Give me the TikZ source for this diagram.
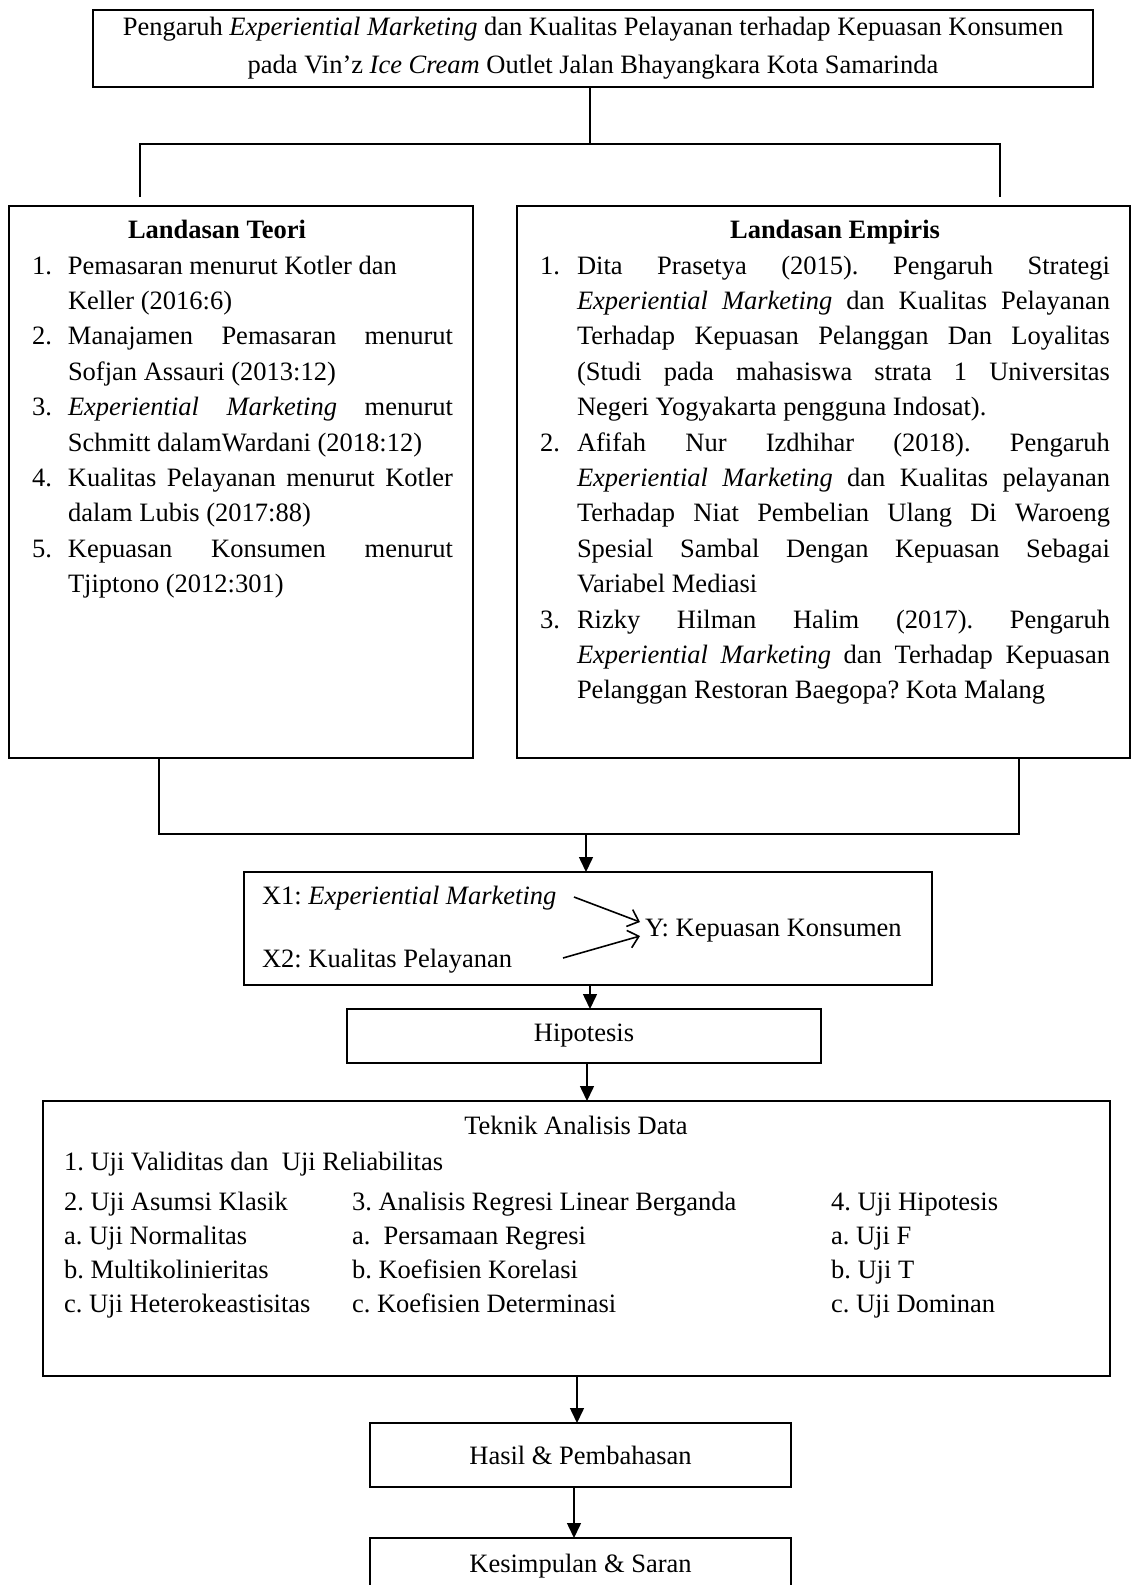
\documentclass[tikz,border=0pt]{standalone}
\usepackage{fontspec}
\setmainfont{Liberation Serif}
\usetikzlibrary{arrows.meta}
\frenchspacing
\newcommand{\bodyfont}{\fontsize{26.5}{35.4}\selectfont}
\newcommand{\titlefont}{\fontsize{26.5}{38}\selectfont}
\newcommand{\jlA}[1]{\makebox[385pt][s]{#1}}
\newcommand{\jlB}[1]{\makebox[533pt][s]{#1}}
\tikzset{
  box/.style={draw, line width=1.8pt, inner sep=0pt, outer sep=0pt},
  txt/.style={inner sep=0pt, outer sep=0pt},
  conn/.style={line width=1.5pt},
  arr/.style={line width=1.5pt, -{Triangle[length=15pt,width=14pt]}},
  barb/.style={line width=1.6pt, -{Straight Barb[length=10pt,width=18pt]}}
}
\begin{document}
\frenchspacing
\begin{tikzpicture}[x=1pt,y=-1pt, every node/.style={font=\bodyfont}]
\useasboundingbox (0,0) rectangle (1131,1585);
\clip (0,0) rectangle (1131,1585);

% title
\node[box, anchor=north west, minimum width=1000pt, minimum height=77pt, align=center, font=\titlefont] (title) at (93,10)
  {Pengaruh \textit{Experiential Marketing} dan Kualitas Pelayanan terhadap Kepuasan Konsumen\\pada Vin’z \textit{Ice Cream} Outlet Jalan Bhayangkara Kota Samarinda};

\coordinate (jc) at (590,144);
\coordinate (jl) at (140,144);
\coordinate (jr) at (1000,144);
\coordinate (dl) at (140,197);
\coordinate (dr) at (1000,197);
\draw[conn] (title.south -| jc) -- (jc);
\draw[conn] (dl) -- (jl) -- (jr) -- (dr);

% two boxes
\node[box, anchor=north west, minimum width=464pt, minimum height=552pt] (teori) at (9,206) {};
\node[box, anchor=north west, minimum width=613pt, minimum height=552pt] (empiris) at (517,206) {};

\node[txt, anchor=base, font=\bodyfont\bfseries] (teorihead) at (217,238) {Landasan Teori};
\node[txt, anchor=base west] (teorilist) at (32,274) {\vtop{\hsize=421pt\parindent=0pt\parskip=0pt\lineskiplimit=-100pt
\hangindent=36pt\hangafter=1 \makebox[36pt][l]{1.}Pemasaran menurut Kotler dan\newline Keller (2016:6)\par
\hangindent=36pt\hangafter=1 \makebox[36pt][l]{2.}\jlA{Manajamen Pemasaran menurut}\newline Sofjan Assauri (2013:12)\par
\hangindent=36pt\hangafter=1 \makebox[36pt][l]{3.}\jlA{\textit{Experiential Marketing} menurut}\newline Schmitt dalamWardani (2018:12)\par
\hangindent=36pt\hangafter=1 \makebox[36pt][l]{4.}\jlA{Kualitas Pelayanan menurut Kotler}\newline dalam Lubis (2017:88)\par
\hangindent=36pt\hangafter=1 \makebox[36pt][l]{5.}\jlA{Kepuasan Konsumen menurut}\newline Tjiptono (2012:301)\par}};

\node[txt, anchor=base, font=\bodyfont\bfseries] (empirishead) at (835,238) {Landasan Empiris};
\node[txt, anchor=base west] (empirislist) at (540,274) {\vtop{\hsize=570pt\parindent=0pt\parskip=0pt\lineskiplimit=-100pt
\hangindent=37pt\hangafter=1 \makebox[37pt][l]{1.}\jlB{Dita Prasetya (2015). Pengaruh Strategi}\newline
\jlB{\textit{Experiential Marketing} dan Kualitas Pelayanan}\newline
\jlB{Terhadap Kepuasan Pelanggan Dan Loyalitas}\newline
\jlB{(Studi pada mahasiswa strata 1 Universitas}\newline
Negeri Yogyakarta pengguna Indosat).\par
\hangindent=37pt\hangafter=1 \makebox[37pt][l]{2.}\jlB{Afifah Nur Izdhihar (2018). Pengaruh}\newline
\jlB{\textit{Experiential Marketing} dan Kualitas pelayanan}\newline
\jlB{Terhadap Niat Pembelian Ulang Di Waroeng}\newline
\jlB{Spesial Sambal Dengan Kepuasan Sebagai}\newline
Variabel Mediasi\par
\hangindent=37pt\hangafter=1 \makebox[37pt][l]{3.}\jlB{Rizky Hilman Halim (2017). Pengaruh}\newline
\jlB{\textit{Experiential Marketing} dan Terhadap Kepuasan}\newline
Pelanggan Restoran Baegopa? Kota Malang\par}};

% lower connector
\coordinate (bl) at (159,834);
\coordinate (br) at (1019,834);
\coordinate (bm) at (586,834);
\draw[conn] (teori.south -| bl) -- (bl) -- (br) -- (empiris.south -| br);

% variables box
\node[box, anchor=north west, minimum width=688pt, minimum height=113pt] (xbox) at (244,872) {};
\draw[arr] (bm) -- (bm |- xbox.north);
\node[txt, anchor=base west] (x1) at (262,904) {X1: \textit{Experiential Marketing}};
\node[txt, anchor=base west] (x2) at (262,967) {X2: Kualitas Pelayanan};
\node[txt, anchor=base west] (yv) at (645,936) {Y: Kepuasan Konsumen};
\coordinate (a1s) at (574,897);
\coordinate (a1e) at (640,922);
\coordinate (a2s) at (563,958);
\coordinate (a2e) at (640,936);
\draw[barb] (a1s) -- (a1e);
\draw[barb] (a2s) -- (a2e);

% hipotesis
\node[box, anchor=north west, minimum width=474pt, minimum height=54pt] (hip) at (347,1009) {Hipotesis};
\draw[arr] (xbox.south -| 590,0) -- (hip.north -| 590,0);

% teknik analisis
\node[box, anchor=north west, minimum width=1067pt, minimum height=275pt] (teknik) at (43,1101) {};
\draw[arr] (hip.south -| 587,0) -- (teknik.north -| 587,0);
\node[txt, anchor=base] (tekhead) at (576,1134) {Teknik Analisis Data};
\node[txt, anchor=base west] (tek1) at (64,1170) {1. Uji Validitas dan~ Uji Reliabilitas};
\node[txt, anchor=base west] (tekc1) at (64,1210) {\vtop{\baselineskip=34pt\hbox{2. Uji Asumsi Klasik}\hbox{a. Uji Normalitas}\hbox{b. Multikolinieritas}\hbox{c. Uji Heterokeastisitas}}};
\node[txt, anchor=base west] (tekc2) at (352,1210) {\vtop{\baselineskip=34pt\hbox{3. Analisis Regresi Linear Berganda}\hbox{a.~ Persamaan Regresi}\hbox{b. Koefisien Korelasi}\hbox{c. Koefisien Determinasi}}};
\node[txt, anchor=base west] (tekc3) at (831,1210) {\vtop{\baselineskip=34pt\hbox{4. Uji Hipotesis}\hbox{a. Uji F}\hbox{b. Uji T}\hbox{c. Uji Dominan}}};

% hasil
\node[box, anchor=north west, minimum width=421pt, minimum height=64pt] (hasil) at (370,1423) {Hasil \& Pembahasan};
\draw[arr] (teknik.south -| 577,0) -- (hasil.north -| 577,0);

% kesimpulan
\node[box, anchor=north west, minimum width=421pt, minimum height=56pt] (kes) at (370,1538) {Kesimpulan \& Saran};
\draw[arr] (hasil.south -| 574,0) -- (kes.north -| 574,0);
\end{tikzpicture}
\end{document}
